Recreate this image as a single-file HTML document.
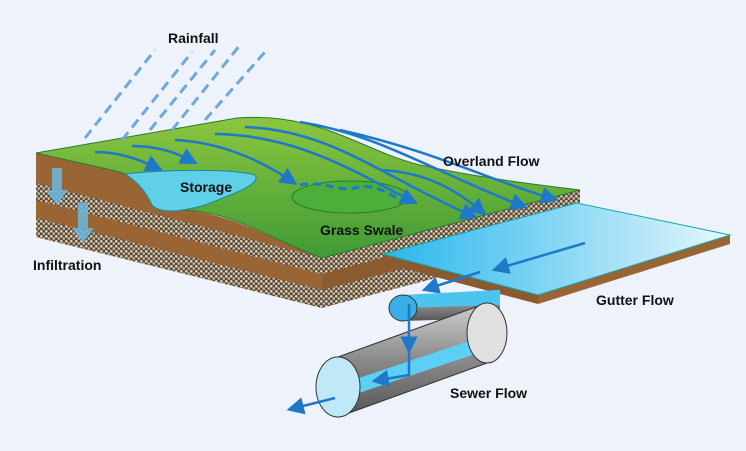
<!DOCTYPE html>
<html><head><meta charset="utf-8"><style>
html,body{margin:0;padding:0;background:#eef3fb;}
svg{display:block}
text{font-family:"Liberation Sans",sans-serif;font-weight:bold;font-size:14px;fill:#111}
</style></head><body>
<svg width="746" height="451" viewBox="0 0 746 451" xmlns="http://www.w3.org/2000/svg">
<defs>
<pattern id="grav" width="5" height="5" patternUnits="userSpaceOnUse">
<rect width="5" height="5" fill="#5a4a3c"/><circle cx="1.3" cy="1.3" r="1.3" fill="#e2d4bc"/><circle cx="3.8" cy="3.6" r="1.3" fill="#cdbb9f"/></pattern>
<linearGradient id="gr" x1="0" y1="0" x2="0" y2="1"><stop offset="0" stop-color="#8cc63f"/><stop offset="1" stop-color="#3f9b35"/></linearGradient>
<linearGradient id="wat" x1="0" y1="0" x2="1" y2="0"><stop offset="0" stop-color="#29b6ec"/><stop offset="1" stop-color="#e6f7fd"/></linearGradient>
<linearGradient id="pipe" x1="0" y1="0" x2="0" y2="1"><stop offset="0" stop-color="#cfcfcf"/><stop offset="0.5" stop-color="#8a8a8a"/><stop offset="1" stop-color="#555"/></linearGradient>
<marker id="ah" viewBox="0 0 10 10" refX="5" refY="5" markerWidth="7" markerHeight="7" orient="auto"><path d="M0,0L10,5L0,10z" fill="#1f78c8"/></marker>
</defs>
<rect width="746" height="451" fill="#eef3fb"/>
<polygon points="322,258 580,190 580,240 322,305" fill="#8a5a30"/>
<polygon points="322,258 580,190 580,205 322,274" fill="url(#grav)"/>
<polygon points="322,290 580,222 580,240 322,308" fill="url(#grav)"/>
<polygon points="36,153 322,258 322,308 36,237" fill="#9a6535"/>
<polygon points="36,183 322,258 322,274 36,200" fill="url(#grav)"/>
<polygon points="36,218 322,290 322,308 36,237" fill="url(#grav)"/>
<path d="M36,153 L120,172 C145,180 150,210 170,210 C230,210 260,235 322,258 L36,183Z" fill="#9a6535"/>
<path d="M36,153 L237,118 C320,112 360,150 420,165 C480,178 540,185 580,190 L322,258 C260,235 230,208 170,210 C150,210 145,180 120,172 Z" fill="url(#gr)" stroke="#2a7a30" stroke-width="1"/>
<path d="M125,174 C160,170 230,168 255,175 C262,185 230,195 205,205 C180,212 160,214 152,205 C145,190 135,180 125,174Z" fill="#5fd0e8" stroke="#1a8a9a"/>
<ellipse cx="350" cy="197" rx="58" ry="16" fill="#4caf3a" stroke="#2a7a30"/>
<path d="M300,185 C320,180 340,192 355,188 C375,182 390,195 410,205" fill="none" stroke="#1f78c8" stroke-width="3" stroke-dasharray="8 5"/>
<g fill="none" stroke="#1f78c8" stroke-width="2.5" marker-end="url(#ah)">
<path d="M95,152 C120,152 140,160 155,167"/>
<path d="M132,146 C155,146 175,152 190,160"/>
<path d="M175,140 C220,142 260,160 290,180"/>
<path d="M215,134 C300,135 360,175 410,200"/>
<path d="M245,127 C330,130 380,175 470,215"/>
<path d="M300,122 C380,135 430,170 520,205"/>
<path d="M340,130 C430,150 490,180 550,198"/>
<path d="M380,170 C420,172 450,185 480,210"/>
</g>
<polygon points="383,254 538,295 538,304 383,263" fill="#8a5a30"/>
<polygon points="538,295 730,235 730,244 538,304" fill="#9a6535"/>
<polygon points="383,254 577,203 730,235 538,295" fill="url(#wat)" stroke="#1aa" stroke-width="1"/>
<g fill="none" stroke="#1f78c8" stroke-width="2.5" marker-end="url(#ah)">
<path d="M585,243 L500,268"/>
<path d="M480,272 L430,288"/>
</g>
<polygon points="403,295 500,290 500,318 403,321" fill="url(#pipe)"/>
<polygon points="403,295 500,290 500,305 403,308" fill="#4cc4f0"/>
<ellipse cx="403" cy="308" rx="14" ry="13" fill="#3aaee6" stroke="#333"/>
<polygon points="338,357 487,303 487,363 338,417" fill="url(#pipe)" stroke="#333"/>
<polygon points="338,385 487,335 487,350 338,400" fill="#5ccff5"/>
<ellipse cx="487" cy="333" rx="20" ry="30" fill="#e0e0e0" stroke="#333"/>
<ellipse cx="338" cy="387" rx="22" ry="30" fill="#bfe9f8" stroke="#333"/>
<path d="M409,304 L409,345" fill="none" stroke="#1f78c8" stroke-width="2.5" marker-end="url(#ah)"/>
<path d="M409,345 L409,375 L380,380" fill="none" stroke="#1f78c8" stroke-width="2.5" marker-end="url(#ah)"/>
<path d="M335,398 L295,408" fill="none" stroke="#1f78c8" stroke-width="2.5" marker-end="url(#ah)"/>
<g stroke="#6fa8dc" stroke-width="3" stroke-dasharray="10 6">
<line x1="85" y1="138" x2="155" y2="50"/><line x1="122" y1="140" x2="192" y2="52"/>
<line x1="150" y1="130" x2="215" y2="50"/><line x1="172" y1="130" x2="240" y2="45"/>
<line x1="205" y1="120" x2="265" y2="52"/>
</g>
<g fill="#6ab8e0" opacity="0.85">
<polygon points="52,168 62,168 62,190 68,190 57,205 46,190 52,190"/>
<polygon points="78,203 88,203 88,228 94,228 83,243 72,228 78,228"/>
</g>
<text x="168" y="43">Rainfall</text>
<text x="180" y="192">Storage</text>
<text x="443" y="166">Overland Flow</text>
<text x="320" y="235">Grass Swale</text>
<text x="33" y="270">Infiltration</text>
<text x="596" y="305">Gutter Flow</text>
<text x="450" y="398">Sewer Flow</text>
</svg>
</body></html>
